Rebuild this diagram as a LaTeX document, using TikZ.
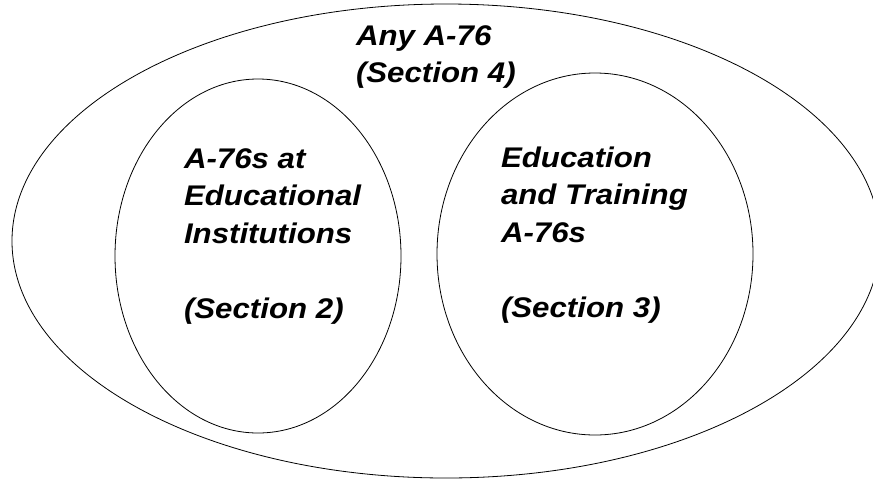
\documentclass[tikz,border=0pt]{standalone}
\usepackage{fontspec}
\setmainfont{Liberation Sans}
\usetikzlibrary{shapes.geometric}
\newcommand{\vlabel}[1]{\scalebox{1.1}[1]{\fontsize{21.3}{28.3}\selectfont\bfseries\itshape\begin{tabular}[t]{@{}l@{}}#1\end{tabular}}}
\tikzset{
  set/.style={draw=black, line width=0.6pt, ellipse, inner sep=0pt, outer sep=0pt},
  lbl/.style={inner sep=0pt, outer sep=0pt, anchor=base west}
}
\begin{document}
\begin{tikzpicture}[x=0.75pt,y=-0.75pt]
\useasboundingbox (0,0) rectangle (873,479);
\node[set, minimum width=651pt, minimum height=355.5pt] (outer) at (446,241) {};
\node[set, minimum width=214.5pt, minimum height=265.5pt] (left) at (258,256) {};
\node[set, minimum width=237pt, minimum height=271.5pt] (right) at (595,254) {};
\node[lbl] (tany) at (356,45) {\vlabel{Any A-76\\(Section 4)}};
\node[lbl] (tleft) at (184,168) {\vlabel{A-76s at\\Educational\\Institutions\\ \\(Section 2)}};
\node[lbl] (tright) at (501,167) {\vlabel{Education\\and Training\\A-76s\\ \\(Section 3)}};
\end{tikzpicture}
\end{document}
